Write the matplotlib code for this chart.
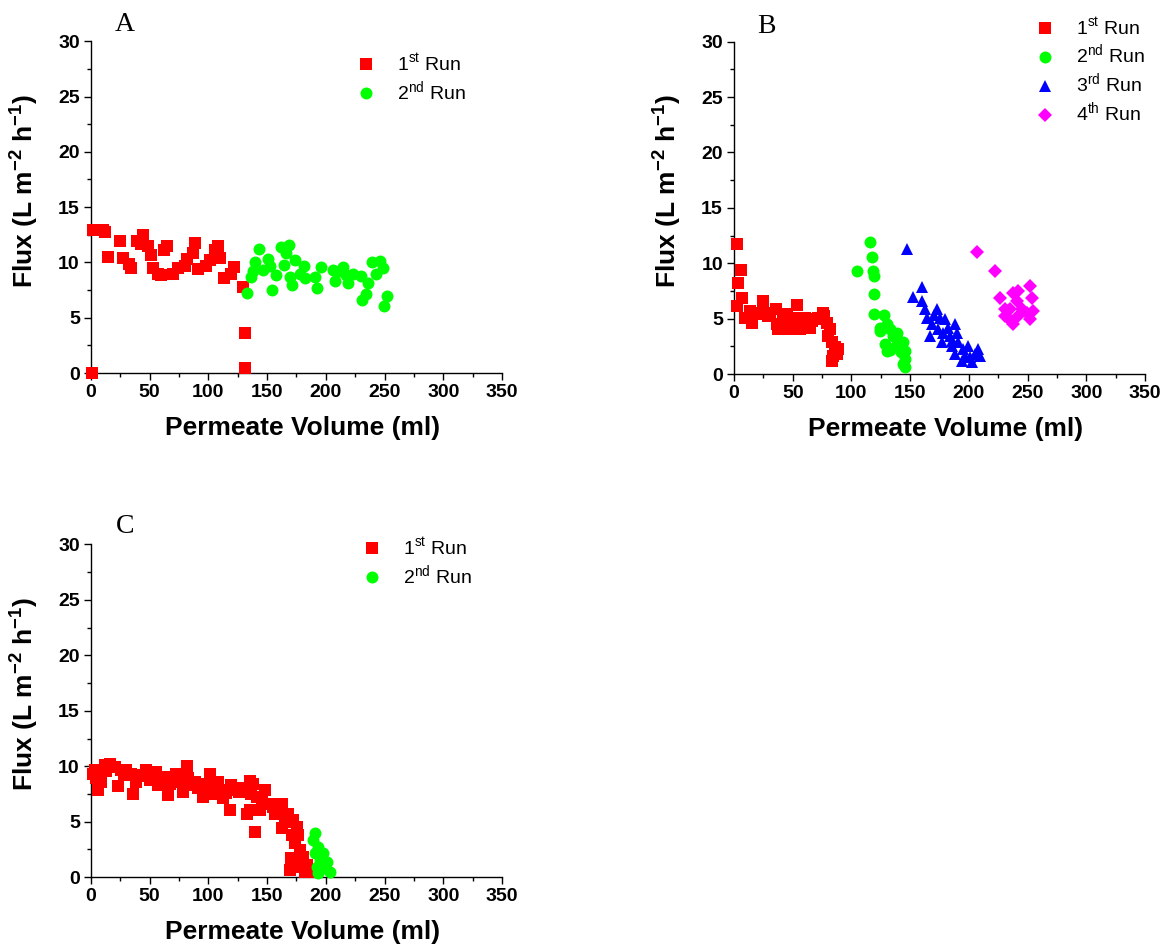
import numpy as np
import matplotlib
matplotlib.use('Agg')
import matplotlib.pyplot as plt
from matplotlib.ticker import MultipleLocator

plt.rcParams['font.family'] = ['Liberation Sans', 'DejaVu Sans']
plt.rcParams['mathtext.fontset'] = 'custom'
plt.rcParams['mathtext.rm'] = 'Liberation Sans'
plt.rcParams['mathtext.bf'] = 'Liberation Sans:bold'

# ---- panel A ----
a_run1_x = [1.4, 6.5, 10, 12.2, 1, 14.2, 25, 27, 32, 34, 39, 43, 44, 49, 51, 53, 57, 60, 62, 64.5,
            70, 74, 80, 81.6, 86.7, 88.7, 91, 98, 101, 105.8, 108, 109.5, 113.7, 119.4, 122, 129.4,
            130.8, 130.8]
a_run1_y = [12.96, 12.96, 12.96, 12.75, 0.05, 10.5, 11.9, 10.4, 9.9, 9.5, 11.9, 11.7, 12.45, 11.5,
            10.7, 9.5, 9.0, 8.9, 11.1, 11.5, 9.0, 9.5, 9.65, 10.3, 10.9, 11.75, 9.4, 9.65, 10.2,
            11.1, 11.5, 10.4, 8.6, 9.0, 9.6, 7.8, 3.6, 0.45]
a_run2_x = [132.8, 136, 138, 140, 142.7, 146.4, 150.7, 152.7, 154.4, 157.8, 161.5, 164, 165.8,
            168.6, 169.7, 171.5, 173.4, 177.7, 181, 182.5, 190.8, 192.2, 196, 206, 208, 212, 215,
            217.5, 219, 223, 229.7, 231, 234, 236, 239, 242.5, 246.5, 248.8, 249.4, 252]
a_run2_y = [7.24, 8.65, 9.2, 10.0, 11.25, 9.3, 10.3, 9.65, 7.5, 8.86, 11.4, 9.8, 10.85, 11.6, 8.65,
            8.0, 10.2, 9.0, 9.7, 8.6, 8.65, 7.66, 9.56, 9.3, 8.3, 9.2, 9.6, 8.9, 8.14, 9.0, 8.74,
            6.63, 7.15, 8.14, 10.04, 9.0, 10.16, 9.5, 6.1, 7.0]

# ---- panel B ----
b_run1_x = [2.8, 5.7, 3.7, 6.5, 2.3, 9.4, 13.6, 15.0, 19.3, 24.4, 25, 29.2, 35.8, 37.7, 42, 44.8,
            47.7, 53.4, 54.8, 56.2, 60.5, 64.7, 69, 75.5, 78.9, 80.3, 83.2, 86, 84.6, 87.4, 83.2,
            88.8, 36.3, 50.5, 61.9, 71.8, 81.7, 22.1, 31, 40, 58, 66, 77]
b_run1_y = [11.78, 9.37, 8.2, 6.85, 6.1, 5.1, 5.7, 4.65, 5.55, 6.6, 5.85, 5.25, 5.85, 4.05, 4.8,
            5.4, 4.05, 6.2, 5.1, 4.05, 5.1, 4.2, 4.95, 5.55, 4.65, 3.45, 2.85, 2.4, 1.65, 1.8, 1.2,
            2.25, 4.5, 4.5, 4.35, 5.1, 4.05, 5.4, 5.5, 4.3, 4.6, 4.8, 5.2]
b_run2_x = [105, 115.8, 117.2, 118, 119.5, 119.5, 119.5, 127.7, 124.3, 130, 132.8, 128.6, 135.6,
            130, 137.1, 138.5, 140, 142, 144.2, 145.6, 145.6, 145.6, 144.2, 124.3, 133, 139, 141]
b_run2_y = [9.3, 11.93, 10.6, 9.3, 8.86, 7.27, 5.4, 5.3, 4.2, 4.5, 4.05, 2.7, 3.45, 2.1, 2.4, 3.16,
            2.4, 1.95, 2.85, 2.1, 1.35, 0.6, 0.9, 3.9, 2.2, 3.7, 2.8]
b_run3_x = [147.6, 159.8, 152.7, 159.8, 162.6, 164, 172.5, 168.3, 175.4, 166.9, 174, 179.6, 176.8,
            183.9, 188.1, 189.6, 185.3, 191, 188.1, 195.2, 199.5, 193.8, 200.9, 205.2, 208, 209.4,
            202.3, 182.5, 178.2, 170, 186, 197]
b_run3_y = [11.27, 7.9, 6.97, 6.6, 5.86, 5.1, 5.86, 4.5, 5.1, 3.45, 4.05, 4.95, 2.85, 3.45, 4.5,
            3.75, 2.55, 2.85, 1.8, 2.25, 2.55, 1.2, 1.5, 1.8, 2.25, 1.65, 1.05, 4.2, 3.75, 5.3,
            3.0, 1.6]
b_run4_x = [207.2, 222.2, 226.5, 230.7, 230.7, 237.8, 242.1, 252, 253.4, 240.6, 235, 244.9, 237.8,
            249.2, 254.8, 252, 233.6, 242.1]
b_run4_y = [11.06, 9.3, 6.85, 5.86, 5.2, 7.36, 7.5, 7.96, 6.85, 6.6, 5.86, 5.86, 4.5, 5.55, 5.7,
            4.95, 5.1, 5.25]

# ---- panel C ----
c_run1_x = [1.5, 3.1, 4.5, 5.9, 8.8, 11.6, 15.9, 20.1, 23, 25.8, 30, 34.3, 35.7, 38.6, 42.8, 47.1,
            49.9, 55.6, 57, 62.2, 65.6, 67, 72.7, 75.5, 78.3, 81.7, 82.6, 88.3, 91.1, 95.4, 96.8,
            101, 105.3, 108.1, 112.4, 118, 119.5, 123.8, 129.5, 133.2, 135.1, 136.6, 139.4, 138.2,
            141.1, 135.4, 148.2, 143.9, 152.4, 156.7, 162.4, 162.4, 168, 172.3, 170.9, 176.6,
            173.7, 178, 180.8, 170.3, 169.5, 179.4, 183.7, 186, 182.3, 175.2, 166.6, 13, 18, 28,
            45, 52, 60, 70, 86, 99, 110, 115, 126, 146, 155, 159, 165]
c_run1_y = [9.3, 9.64, 8.9, 7.9, 8.6, 10.1, 10.2, 9.94, 8.2, 9.64, 9.64, 9.34, 7.48, 8.6, 9.2, 9.7,
            8.74, 9.5, 8.3, 9.04, 7.45, 8.44, 9.34, 8.6, 7.7, 10.0, 8.9, 8.6, 8.0, 7.24, 8.44, 9.34,
            7.54, 8.6, 7.1, 6.04, 8.3, 7.84, 8.0, 5.74, 8.7, 7.54, 4.1, 8.44, 7.24, 6.04, 7.84,
            6.04, 6.64, 5.74, 6.64, 4.4, 5.74, 5.14, 3.8, 3.8, 3.04, 2.44, 1.84, 1.7, 0.64, 0.94,
            1.1, 0.5, 0.5, 4.55, 5.0, 9.6, 9.9, 9.2, 9.1, 9.3, 8.9, 8.8, 8.3, 8.2, 7.9, 7.6, 7.7,
            6.9, 6.3, 5.9, 5.4]
c_run2_x = [190.8, 189.3, 193.6, 190.8, 197.9, 195, 200.7, 192.2, 199.3, 203.5, 193.6, 196.5]
c_run2_y = [3.94, 3.34, 2.74, 2.14, 2.14, 1.54, 1.4, 0.94, 0.8, 0.5, 0.34, 1.1]

ylab = r'Flux (L m$^{\mathbf{-2}}$ h$^{\mathbf{-1}}$)'
labels = [r'1$^{\mathrm{st}}$ Run', r'2$^{\mathrm{nd}}$ Run', r'3$^{\mathrm{rd}}$ Run', r'4$^{\mathrm{th}}$ Run']
styles = [('s', '#ff0000', 8.0), ('o', '#00ff00', 8.6), ('^', '#0000ff', 9.0), ('D', '#ff00ff', 7.0)]

fig = plt.figure(figsize=(11.66, 9.47), dpi=100)
axA = fig.add_axes([0.078, 0.606, 0.3525, 0.3505])
axB = fig.add_axes([0.6295, 0.605, 0.3525, 0.3510])
axC = fig.add_axes([0.078, 0.0737, 0.3525, 0.3515])

panels = [
    (axA, 'A', [(a_run1_x, a_run1_y), (a_run2_x, a_run2_y)], (0.646, 0.966), (0.083, 1.05)),
    (axB, 'B', [(b_run1_x, b_run1_y), (b_run2_x, b_run2_y), (b_run3_x, b_run3_y), (b_run4_x, b_run4_y)],
     (0.732, 1.076), (0.08, 1.045)),
    (axC, 'C', [(c_run1_x, c_run1_y), (c_run2_x, c_run2_y)], (0.659, 1.023), (0.083, 1.055)),
]

for ax, letter, series, leg_pos, let_pos in panels:
    for i, (xs, ys) in enumerate(series):
        m, c, ms = styles[i]
        ax.plot(xs, ys, linestyle='none', marker=m, color=c, markersize=ms,
                markeredgewidth=0, label=labels[i], clip_on=False, zorder=3)
    ax.set_xlim(0, 350)
    ax.set_ylim(0, 30)
    ax.spines['top'].set_visible(False)
    ax.spines['right'].set_visible(False)
    for s in ['left', 'bottom']:
        ax.spines[s].set_linewidth(1.0)
    ax.xaxis.set_major_locator(MultipleLocator(50))
    ax.xaxis.set_minor_locator(MultipleLocator(25))
    ax.yaxis.set_major_locator(MultipleLocator(5))
    ax.yaxis.set_minor_locator(MultipleLocator(2.5))
    ax.tick_params(which='major', direction='out', length=5, width=1, pad=3, labelsize=14)
    ax.tick_params(which='minor', direction='out', length=3, width=1)
    for t in ax.get_xticklabels() + ax.get_yticklabels():
        t.set_fontweight('bold')
    ax.set_xlabel('Permeate Volume (ml)', fontsize=19, fontweight='bold')
    ax.set_ylabel(ylab, fontsize=19, fontweight='bold')
    ax.xaxis.set_label_coords(0.515, -0.13)
    ax.yaxis.set_label_coords(-0.125, 0.55)
    ax.xaxis.label.set_va('top')
    ax.text(let_pos[0], let_pos[1], letter, transform=ax.transAxes, fontsize=20,
            family='Liberation Serif', ha='center', va='center')
    ax.legend(loc='upper left', bbox_to_anchor=leg_pos, frameon=False, fontsize=14,
              borderpad=0, borderaxespad=0, handlelength=1.0, handletextpad=1.1,
              labelspacing=0.22, numpoints=1)

plt.savefig('out.png', dpi=100)
